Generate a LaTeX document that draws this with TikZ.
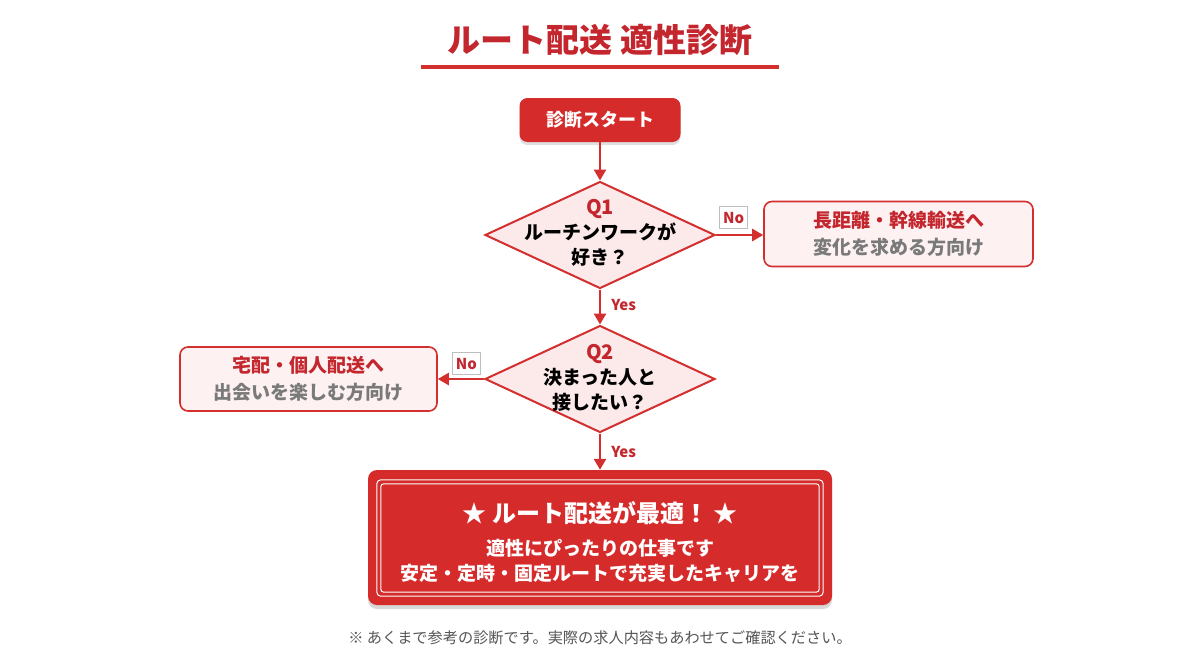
\documentclass[tikz,border=0pt]{standalone}
\usepackage{fontspec}
\setmainfont{Noto Sans CJK JP}
\usetikzlibrary{shapes.geometric,arrows.meta,shadows,calc}
\definecolor{titlered}{HTML}{C4262E}
\definecolor{boxred}{HTML}{D62B2B}
\definecolor{pinkfill}{HTML}{FCE9E9}
\definecolor{lightfill}{HTML}{FDF1F1}
\definecolor{subgray}{HTML}{7A7A7A}
\definecolor{footgray}{HTML}{555555}
\definecolor{linered}{HTML}{D32F2F}
\tikzset{
  arr/.style={draw=linered, line width=2.5pt, -{Triangle[length=11pt,width=12pt]}},
  startbox/.style={draw=none, fill=boxred, rounded corners=8pt, minimum width=161pt, minimum height=44pt,
    text=white, font=\bfseries\fontsize{18}{22}\selectfont, drop shadow={opacity=0.25, shadow xshift=0pt, shadow yshift=-3pt}},
  qdia/.style={diamond, draw=linered, line width=2pt, fill=pinkfill, minimum width=230pt, minimum height=107pt, inner sep=0pt},
  qtext/.style={align=center, font=\bfseries\fontsize{19}{25}\selectfont, text=black},
  outbox/.style={draw=linered, line width=1.6pt, fill=lightfill, rounded corners=8pt, align=center,
    font=\bfseries\fontsize{19}{27}\selectfont},
  nolabel/.style={draw=black!25, line width=0.6pt, fill=white, text=titlered, inner sep=0pt,
    minimum width=28pt, minimum height=22pt, font=\bfseries\fontsize{15}{17}\selectfont},
  yeslabel/.style={text=titlered, inner sep=0pt, font=\bfseries\fontsize{15}{17}\selectfont},
  resbox/.style={fill=boxred, rounded corners=9pt, minimum width=464pt, minimum height=135pt,
    drop shadow={opacity=0.3, shadow xshift=0pt, shadow yshift=-4pt}},
}
\begin{document}
\begin{tikzpicture}[x=1pt,y=-1pt]
\useasboundingbox (0,0) rectangle (1200,672);
\fill[white] (0,0) rectangle (1200,672);
% title
\node[text=titlered, font=\bfseries\fontsize{33}{38}\selectfont] (title) at (600,40) {ルート配送 適性診断};
\draw[linered, line width=3.5pt] (421,67) -- (779,67);
% start
\node[startbox] (start) at (600,120) {診断スタート};
% Q1
\node[qdia] (q1) at (600,235) {};
\node[qtext] (q1t) at (600,233) {{\color{titlered}\fontsize{20}{25}\selectfont Q1}\\ルーチンワークが\\好き？};
% right box
\node[outbox, minimum width=269pt, minimum height=65pt] (r1) at (898.5,234)
  {{\color{titlered}長距離・幹線輸送へ}\\{\color{subgray}変化を求める方向け}};
% Q2
\node[qdia] (q2) at (600,379) {};
\node[qtext] (q2t) at (600,378) {{\color{titlered}\fontsize{20}{25}\selectfont Q2}\\決まった人と\\接したい？};
% left box
\node[outbox, minimum width=257pt, minimum height=64pt] (l2) at (308.5,379)
  {{\color{titlered}宅配・個人配送へ}\\{\color{subgray}出会いを楽しむ方向け}};
% result
\node[resbox] (res) at (600,537.5) {};
\draw[white, line width=1pt, rounded corners=4pt] ($(res.north west)+(9,10)$) rectangle ($(res.south east)+(-9,-9)$);
\draw[white, line width=1pt, rounded corners=3pt] ($(res.north west)+(13,14)$) rectangle ($(res.south east)+(-13,-13)$);
\node[text=white, font=\bfseries\fontsize{24}{28}\selectfont] (rest) at (600,513) {★ ルート配送が最適！ ★};
\node[text=white, align=center, font=\bfseries\fontsize{19}{25}\selectfont] (ress) at (600,561)
  {適性にぴったりの仕事です\\安定・定時・固定ルートで充実したキャリアを};
% footnote
\node[text=footgray, font=\fontsize{15.2}{18}\selectfont] (foot) at (600,638)
  {※ あくまで参考の診断です。実際の求人内容もあわせてご確認ください。};
% connectors
\draw[arr] (start.south) -- (q1.north);
\draw[arr] (q1.east) -- node[nolabel, pos=0.375, above=6pt] (no1) {No} (q1.east -| r1.west);
\draw[arr] (q1.south) -- node[yeslabel, pos=0.45, right=10pt] (yes1) {Yes} (q2.north);
\draw[arr] (q2.west) -- node[nolabel, pos=0.38, above=4pt] (no2) {No} (q2.west -| l2.east);
\draw[arr] (q2.south) -- node[yeslabel, pos=0.5, right=10pt] (yes2) {Yes} (res.north);
\end{tikzpicture}
\end{document}
